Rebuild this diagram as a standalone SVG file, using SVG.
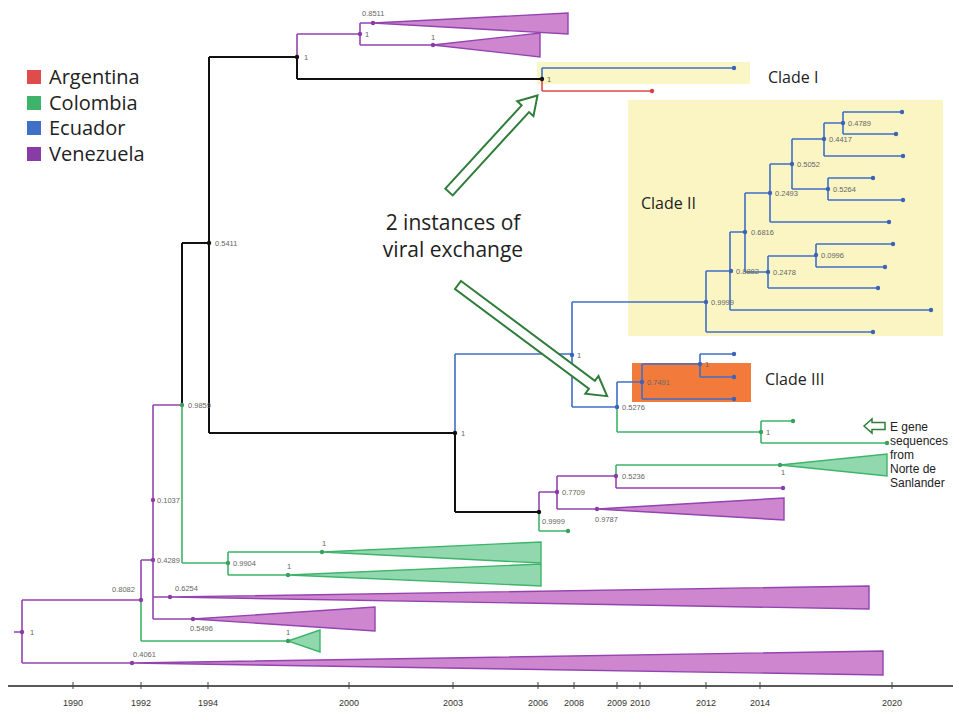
<svg xmlns="http://www.w3.org/2000/svg" width="953" height="712" viewBox="0 0 953 712">
<style>
.p{stroke:#9344B0;fill:none;stroke-width:1.6}
.g{stroke:#3DB46A;fill:none;stroke-width:1.6}
.b{stroke:#3F6FC6;fill:none;stroke-width:1.6}
.r{stroke:#E04B4B;fill:none;stroke-width:1.6}
.k{stroke:#111;fill:none;stroke-width:2}
.tp{fill:#CE86CF;stroke:#9344B0;stroke-width:1.4}
.tg{fill:#92D8AE;stroke:#3DB46A;stroke-width:1.4}
.dp{fill:#8A3CA6}.dg{fill:#3A9F60}.db{fill:#3A64B8}.dr{fill:#D84040}.dk{fill:#111}
.lb{font-family:"Liberation Sans",Arial,sans-serif;font-size:7.5px;fill:#666}
.big{font-family:"Open Sans","Liberation Sans",sans-serif;fill:#222}
.sm{font-family:"Liberation Sans",Arial,sans-serif;font-size:12px;fill:#222}
.ax{font-family:"Liberation Sans",Arial,sans-serif;font-size:9px;fill:#333;text-anchor:middle}
.arr{fill:#fff;stroke:#2F7D3A;stroke-width:2}
</style>
<rect width="953" height="712" fill="#fff"/>
<g id="highlights">
<rect x="537" y="62" width="213" height="22" fill="#FBF6C6"/>
<rect x="628" y="100" width="315" height="236" fill="#FBF5C4"/>
<rect x="632" y="363" width="119" height="39" fill="#F27B3C"/>
</g>
<g id="legend">
<rect x="27" y="70" width="14" height="14" fill="#E04B4B"/>
<rect x="27" y="96" width="14" height="14" fill="#3DB46A"/>
<rect x="27" y="121" width="14" height="14" fill="#3F6FC6"/>
<rect x="27" y="147" width="14" height="14" fill="#8A3CA6"/>
<text class="big" x="49" y="84" font-size="20">Argentina</text>
<text class="big" x="49" y="110" font-size="20">Colombia</text>
<text class="big" x="49" y="135" font-size="20">Ecuador</text>
<text class="big" x="49" y="161" font-size="20">Venezuela</text>
</g>
<g id="connectors">
<path class="p" d="M14,632H22M22,600V663M22,600H141M22,663H132M141,560V600M141,560H153M153,405V619M153,405H182M153,597H170M153,619H193M297,34V57M297,34H360M360,23V45M360,23H373M360,45H433M539,492V512M539,492H557M557,476V509M557,476H616M557,509H597M616,476V488M616,488H783"/>
<path class="g" d="M141,600V641M141,641H288M182,405V563M182,563H228M228,552V575M228,552H322M228,575H288M539,512V531M539,531H568M616,465V476M616,465H780M617,407V432M617,432H761M761,421V443M761,421H793M761,443H887"/>
<path class="k" d="M209,57H297M297,57V79M297,79H542M209,57V433M182,243H209M182,243V405M209,433H455M455,433V512M455,512H539"/>
<path class="r" d="M542,79V91M542,91H652"/>
<path class="b" d="M542,68V79M542,68H734M455,354V433M455,354H572M572,302V407M572,302H706M572,407H617M617,382V407M617,382H642M642,364V399M642,364H700M642,399H734M700,354V377M700,354H734M700,377H734"/>
<path class="b" d="M706,271V332M706,271H730M706,332H873M730,232V310M730,232H745M730,310H931M745,193V272M745,193H770M745,272H768M770,164V222M770,164H792M770,222H889M792,139V189M792,139H824M792,189H828M824,123V156M824,123H843M824,156H903M843,112V134M843,112H902M843,134H896M828,178V200M828,178H873M828,200H903M768,256V288M768,256H816M768,288H878M816,244V267M816,244H893M816,267H885"/>
</g>
<g id="collapsed">
<polygon class="tp" points="373,23 568,13 568,34"/>
<polygon class="tp" points="433,45 540,33 540,57"/>
<polygon class="tg" points="322,552 541,542 541,563"/>
<polygon class="tg" points="288,575 541,564 541,586"/>
<polygon class="tp" points="170,597 869,586 869,609"/>
<polygon class="tp" points="193,619 375,607 375,631"/>
<polygon class="tg" points="288,641 320,630 320,652"/>
<polygon class="tp" points="132,663 883,651 883,675"/>
<polygon class="tp" points="597,509 784,498 784,520"/>
<polygon class="tg" points="780,465 887,454 887,476"/>
</g>
<g id="nodes">
<g id="n-root"><circle class="dp" cx="22" cy="632" r="2.2"/><text class="lb" x="30" y="635">1</text></g>
<g id="n-08082"><circle class="dp" cx="141" cy="600" r="2.2"/><text class="lb" x="112" y="592">0.8082</text></g>
<g id="n-04061"><circle class="dp" cx="132" cy="663" r="2.2"/><text class="lb" x="133" y="657">0.4061</text></g>
<g id="n-04289"><circle class="dp" cx="153" cy="560" r="2.2"/><text class="lb" x="157" y="563">0.4289</text></g>
<g id="n-01037"><circle class="dp" cx="153" cy="500" r="2.2"/><text class="lb" x="157" y="503">0.1037</text></g>
<g id="n-06254"><circle class="dp" cx="170" cy="597" r="2.2"/><text class="lb" x="175" y="591">0.6254</text></g>
<g id="n-05496"><circle class="dp" cx="193" cy="619" r="2.2"/><text class="lb" x="190" y="631">0.5496</text></g>
<g id="n-green641"><circle class="dg" cx="288" cy="641" r="2.2"/><text class="lb" x="286" y="635">1</text></g>
<g id="n-09859"><circle class="dg" cx="182" cy="405" r="2.2"/><text class="lb" x="188" y="408">0.9859</text></g>
<g id="n-09904"><circle class="dg" cx="228" cy="563" r="2.2"/><text class="lb" x="233" y="566">0.9904</text></g>
<g id="n-g552"><circle class="dg" cx="322" cy="552" r="2.2"/><text class="lb" x="322" y="546">1</text></g>
<g id="n-g575"><circle class="dg" cx="288" cy="575" r="2.2"/><text class="lb" x="287" y="569">1</text></g>
<g id="n-05411"><circle class="dk" cx="209" cy="243" r="2.2"/><text class="lb" x="215" y="246">0.5411</text></g>
<g id="n-k297"><circle class="dk" cx="297" cy="57" r="2.2"/><text class="lb" x="304" y="60">1</text></g>
<g id="n-p360"><circle class="dp" cx="360" cy="34" r="2.2"/><text class="lb" x="365" y="37">1</text></g>
<g id="n-08511"><circle class="dp" cx="373" cy="23" r="2.2"/><text class="lb" x="362" y="16">0.8511</text></g>
<g id="n-p433"><circle class="dp" cx="433" cy="45" r="2.2"/><text class="lb" x="431" y="40">1</text></g>
<g id="n-cladeI"><circle class="dk" cx="542" cy="79" r="2.2"/><text class="lb" x="547" y="82">1</text><circle class="db" cx="734" cy="68" r="2.2"/><circle class="dr" cx="652" cy="91" r="2.2"/></g>
<g id="n-k455"><circle class="dk" cx="455" cy="433" r="2.2"/><text class="lb" x="461" y="436">1</text></g>
<g id="n-b572"><circle class="db" cx="572" cy="355" r="2.2"/><text class="lb" x="577" y="358">1</text></g>
<g id="n-05276"><circle class="db" cx="617" cy="407" r="2.2"/><text class="lb" x="622" y="410">0.5276</text></g>
<g id="n-07491"><circle class="db" cx="642" cy="382" r="2.2"/><text class="lb" x="647" y="385">0.7491</text></g>
<g id="n-b700"><circle class="db" cx="700" cy="364" r="2.2"/><text class="lb" x="705" y="367">1</text><circle class="db" cx="734" cy="354" r="2.2"/><circle class="db" cx="734" cy="377" r="2.2"/><circle class="db" cx="734" cy="399" r="2.2"/></g>
<g id="n-g761"><circle class="dg" cx="761" cy="432" r="2.2"/><text class="lb" x="766" y="435">1</text><circle class="dg" cx="793" cy="421" r="2.2"/><circle class="dg" cx="887" cy="443" r="2.2"/></g>
<g id="n-09999b"><circle class="dk" cx="539" cy="512" r="2.2"/><text class="lb" x="542" y="524">0.9999</text><circle class="dg" cx="568" cy="531" r="2.2"/></g>
<g id="n-07709"><circle class="dp" cx="557" cy="492" r="2.2"/><text class="lb" x="562" y="495">0.7709</text></g>
<g id="n-05236"><circle class="dp" cx="616" cy="476" r="2.2"/><text class="lb" x="622" y="479">0.5236</text><circle class="dp" cx="783" cy="488" r="2.2"/></g>
<g id="n-09787"><circle class="dp" cx="597" cy="509" r="2.2"/><text class="lb" x="595" y="522">0.9787</text></g>
<g id="n-g780"><circle class="dg" cx="780" cy="465" r="2.2"/><text class="lb" x="781" y="475">1</text></g>
<g id="n-cladeII">
<circle class="db" cx="706" cy="302" r="2.2"/><text class="lb" x="711" y="305">0.9999</text>
<circle class="db" cx="731" cy="271" r="2.2"/><text class="lb" x="736" y="274">0.8882</text>
<circle class="db" cx="745" cy="232" r="2.2"/><text class="lb" x="751" y="235">0.6816</text>
<circle class="db" cx="770" cy="193" r="2.2"/><text class="lb" x="775" y="196">0.2493</text>
<circle class="db" cx="792" cy="164" r="2.2"/><text class="lb" x="797" y="167">0.5052</text>
<circle class="db" cx="824" cy="139" r="2.2"/><text class="lb" x="829" y="142">0.4417</text>
<circle class="db" cx="843" cy="123" r="2.2"/><text class="lb" x="848" y="126">0.4789</text>
<circle class="db" cx="828" cy="189" r="2.2"/><text class="lb" x="833" y="192">0.5264</text>
<circle class="db" cx="768" cy="272" r="2.2"/><text class="lb" x="773" y="275">0.2478</text>
<circle class="db" cx="816" cy="255" r="2.2"/><text class="lb" x="821" y="258">0.0996</text>
<circle class="db" cx="902" cy="112" r="2.2"/><circle class="db" cx="896" cy="134" r="2.2"/><circle class="db" cx="903" cy="156" r="2.2"/><circle class="db" cx="873" cy="178" r="2.2"/><circle class="db" cx="903" cy="200" r="2.2"/><circle class="db" cx="889" cy="222" r="2.2"/><circle class="db" cx="893" cy="244" r="2.2"/><circle class="db" cx="885" cy="267" r="2.2"/><circle class="db" cx="878" cy="288" r="2.2"/><circle class="db" cx="931" cy="310" r="2.2"/><circle class="db" cx="873" cy="332" r="2.2"/>
</g>
</g>
<g id="annotations">
<text class="big" x="768" y="83" font-size="16">Clade I</text>
<text class="big" x="641" y="209" font-size="16">Clade II</text>
<text class="big" x="765" y="385" font-size="16">Clade III</text>
<text class="big" x="453" y="230" font-size="21" text-anchor="middle">2 instances of</text>
<text class="big" x="453" y="257" font-size="21" text-anchor="middle">viral exchange</text>
<polygon class="arr" transform="translate(449,192) rotate(-47.5)" points="0,-5 113,-5 113,-11 131,0 113,11 113,5 0,5"/>
<polygon class="arr" transform="translate(458,285) rotate(36.7)" points="0,-5 167,-5 167,-11 186,0 167,11 167,5 0,5"/>
<polygon class="arr" style="stroke-width:1.5" points="864,426 872,419 872,422.5 885,422.5 885,429.5 872,429.5 872,433"/>
<text class="sm" x="890" y="431">E gene</text>
<text class="sm" x="890" y="445">sequences</text>
<text class="sm" x="890" y="459">from</text>
<text class="sm" x="890" y="473">Norte de</text>
<text class="sm" x="890" y="487">Sanlander</text>
</g>
<g id="axis">
<path d="M8,686H953" stroke="#222" stroke-width="1.5"/>
<path d="M73,682V689M141,682V689M208,682V689M349,682V689M453,682V689M538,682V689M574,682V689M617,682V689M640,682V689M706,682V689M760,682V689M892,682V689" stroke="#444" stroke-width="1"/>
<text class="ax" x="73" y="706">1990</text>
<text class="ax" x="141" y="706">1992</text>
<text class="ax" x="208" y="706">1994</text>
<text class="ax" x="349" y="706">2000</text>
<text class="ax" x="453" y="706">2003</text>
<text class="ax" x="538" y="706">2006</text>
<text class="ax" x="574" y="706">2008</text>
<text class="ax" x="617" y="706">2009</text>
<text class="ax" x="640" y="706">2010</text>
<text class="ax" x="706" y="706">2012</text>
<text class="ax" x="760" y="706">2014</text>
<text class="ax" x="892" y="706">2020</text>
</g>
</svg>
